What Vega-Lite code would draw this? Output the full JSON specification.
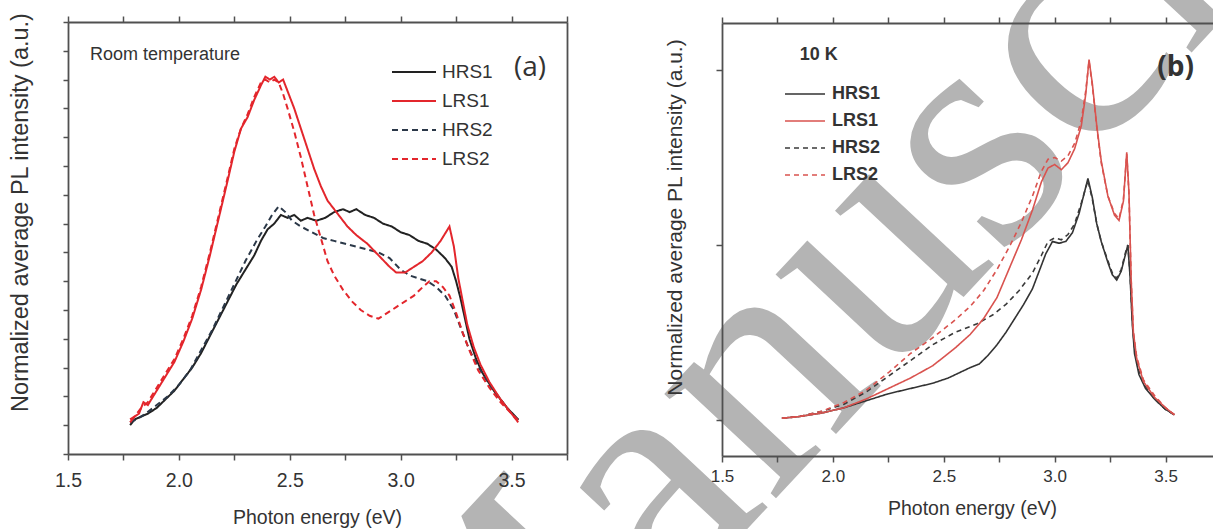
{
"$schema":"https://vega.github.io/schema/vega-lite/v6.json",
"width":1213,"height":529,"padding":0,"autosize":{"type":"none"},
"config":{"view":{"stroke":null},"axis":{"zindex":1,"grid":false,"domainColor":"#505050","tickColor":"#505050","domainWidth":1.8,"tickWidth":1.5,"labelColor":"#333","titleColor":"#333","titleFontWeight":"normal"}},
"datasets":{
"one":[{}],
"a":[
{"s":"HRS1","e":1.78,"v":0.10},{"s":"HRS1","e":1.80,"v":0.12},{"s":"HRS1","e":1.83,"v":0.13},{"s":"HRS1","e":1.86,"v":0.14},{"s":"HRS1","e":1.90,"v":0.16},{"s":"HRS1","e":1.94,"v":0.19},{"s":"HRS1","e":1.98,"v":0.22},{"s":"HRS1","e":2.02,"v":0.26},{"s":"HRS1","e":2.06,"v":0.30},{"s":"HRS1","e":2.10,"v":0.35},{"s":"HRS1","e":2.14,"v":0.41},{"s":"HRS1","e":2.18,"v":0.47},{"s":"HRS1","e":2.22,"v":0.53},{"s":"HRS1","e":2.26,"v":0.59},{"s":"HRS1","e":2.30,"v":0.64},{"s":"HRS1","e":2.34,"v":0.69},{"s":"HRS1","e":2.37,"v":0.74},{"s":"HRS1","e":2.40,"v":0.78},{"s":"HRS1","e":2.43,"v":0.80},{"s":"HRS1","e":2.46,"v":0.83},{"s":"HRS1","e":2.49,"v":0.82},{"s":"HRS1","e":2.52,"v":0.83},{"s":"HRS1","e":2.55,"v":0.81},{"s":"HRS1","e":2.58,"v":0.82},{"s":"HRS1","e":2.62,"v":0.81},{"s":"HRS1","e":2.66,"v":0.82},{"s":"HRS1","e":2.70,"v":0.84},{"s":"HRS1","e":2.74,"v":0.85},{"s":"HRS1","e":2.77,"v":0.84},{"s":"HRS1","e":2.80,"v":0.85},{"s":"HRS1","e":2.84,"v":0.83},{"s":"HRS1","e":2.88,"v":0.82},{"s":"HRS1","e":2.92,"v":0.80},{"s":"HRS1","e":2.96,"v":0.79},{"s":"HRS1","e":3.00,"v":0.77},{"s":"HRS1","e":3.04,"v":0.76},{"s":"HRS1","e":3.08,"v":0.74},{"s":"HRS1","e":3.12,"v":0.73},{"s":"HRS1","e":3.16,"v":0.71},{"s":"HRS1","e":3.20,"v":0.68},{"s":"HRS1","e":3.23,"v":0.65},{"s":"HRS1","e":3.25,"v":0.60},{"s":"HRS1","e":3.27,"v":0.54},{"s":"HRS1","e":3.29,"v":0.47},{"s":"HRS1","e":3.31,"v":0.40},{"s":"HRS1","e":3.34,"v":0.33},{"s":"HRS1","e":3.37,"v":0.28},{"s":"HRS1","e":3.42,"v":0.22},{"s":"HRS1","e":3.48,"v":0.16},{"s":"HRS1","e":3.53,"v":0.12},
{"s":"HRS2","e":1.78,"v":0.11},{"s":"HRS2","e":1.81,"v":0.12},{"s":"HRS2","e":1.85,"v":0.14},{"s":"HRS2","e":1.90,"v":0.17},{"s":"HRS2","e":1.95,"v":0.20},{"s":"HRS2","e":2.00,"v":0.24},{"s":"HRS2","e":2.05,"v":0.29},{"s":"HRS2","e":2.10,"v":0.36},{"s":"HRS2","e":2.15,"v":0.43},{"s":"HRS2","e":2.20,"v":0.51},{"s":"HRS2","e":2.25,"v":0.59},{"s":"HRS2","e":2.30,"v":0.67},{"s":"HRS2","e":2.35,"v":0.74},{"s":"HRS2","e":2.39,"v":0.79},{"s":"HRS2","e":2.42,"v":0.83},{"s":"HRS2","e":2.45,"v":0.86},{"s":"HRS2","e":2.48,"v":0.84},{"s":"HRS2","e":2.51,"v":0.81},{"s":"HRS2","e":2.55,"v":0.79},{"s":"HRS2","e":2.60,"v":0.77},{"s":"HRS2","e":2.65,"v":0.75},{"s":"HRS2","e":2.70,"v":0.74},{"s":"HRS2","e":2.75,"v":0.73},{"s":"HRS2","e":2.80,"v":0.72},{"s":"HRS2","e":2.85,"v":0.71},{"s":"HRS2","e":2.90,"v":0.70},{"s":"HRS2","e":2.95,"v":0.68},{"s":"HRS2","e":3.00,"v":0.64},{"s":"HRS2","e":3.04,"v":0.62},{"s":"HRS2","e":3.08,"v":0.61},{"s":"HRS2","e":3.12,"v":0.60},{"s":"HRS2","e":3.16,"v":0.58},{"s":"HRS2","e":3.20,"v":0.55},{"s":"HRS2","e":3.24,"v":0.50},{"s":"HRS2","e":3.27,"v":0.44},{"s":"HRS2","e":3.30,"v":0.38},{"s":"HRS2","e":3.33,"v":0.33},{"s":"HRS2","e":3.36,"v":0.29},{"s":"HRS2","e":3.40,"v":0.24},{"s":"HRS2","e":3.45,"v":0.19},{"s":"HRS2","e":3.50,"v":0.14},{"s":"HRS2","e":3.54,"v":0.11},
{"s":"LRS1","e":1.78,"v":0.11},{"s":"LRS1","e":1.80,"v":0.13},{"s":"LRS1","e":1.82,"v":0.14},{"s":"LRS1","e":1.84,"v":0.18},{"s":"LRS1","e":1.86,"v":0.17},{"s":"LRS1","e":1.90,"v":0.22},{"s":"LRS1","e":1.94,"v":0.27},{"s":"LRS1","e":1.98,"v":0.32},{"s":"LRS1","e":2.02,"v":0.39},{"s":"LRS1","e":2.06,"v":0.47},{"s":"LRS1","e":2.10,"v":0.57},{"s":"LRS1","e":2.14,"v":0.69},{"s":"LRS1","e":2.18,"v":0.82},{"s":"LRS1","e":2.22,"v":0.95},{"s":"LRS1","e":2.25,"v":1.05},{"s":"LRS1","e":2.28,"v":1.13},{"s":"LRS1","e":2.31,"v":1.17},{"s":"LRS1","e":2.34,"v":1.23},{"s":"LRS1","e":2.37,"v":1.28},{"s":"LRS1","e":2.39,"v":1.31},{"s":"LRS1","e":2.41,"v":1.30},{"s":"LRS1","e":2.43,"v":1.31},{"s":"LRS1","e":2.45,"v":1.29},{"s":"LRS1","e":2.47,"v":1.30},{"s":"LRS1","e":2.49,"v":1.26},{"s":"LRS1","e":2.52,"v":1.20},{"s":"LRS1","e":2.55,"v":1.13},{"s":"LRS1","e":2.58,"v":1.06},{"s":"LRS1","e":2.61,"v":0.99},{"s":"LRS1","e":2.64,"v":0.93},{"s":"LRS1","e":2.67,"v":0.88},{"s":"LRS1","e":2.70,"v":0.85},{"s":"LRS1","e":2.73,"v":0.82},{"s":"LRS1","e":2.76,"v":0.79},{"s":"LRS1","e":2.80,"v":0.76},{"s":"LRS1","e":2.85,"v":0.73},{"s":"LRS1","e":2.90,"v":0.69},{"s":"LRS1","e":2.95,"v":0.65},{"s":"LRS1","e":2.98,"v":0.63},{"s":"LRS1","e":3.02,"v":0.63},{"s":"LRS1","e":3.06,"v":0.65},{"s":"LRS1","e":3.10,"v":0.67},{"s":"LRS1","e":3.14,"v":0.70},{"s":"LRS1","e":3.18,"v":0.74},{"s":"LRS1","e":3.22,"v":0.79},{"s":"LRS1","e":3.24,"v":0.72},{"s":"LRS1","e":3.26,"v":0.61},{"s":"LRS1","e":3.28,"v":0.53},{"s":"LRS1","e":3.30,"v":0.45},{"s":"LRS1","e":3.33,"v":0.37},{"s":"LRS1","e":3.36,"v":0.31},{"s":"LRS1","e":3.40,"v":0.25},{"s":"LRS1","e":3.45,"v":0.19},{"s":"LRS1","e":3.50,"v":0.14},{"s":"LRS1","e":3.53,"v":0.11},
{"s":"LRS2","e":1.78,"v":0.12},{"s":"LRS2","e":1.80,"v":0.13},{"s":"LRS2","e":1.83,"v":0.16},{"s":"LRS2","e":1.86,"v":0.18},{"s":"LRS2","e":1.90,"v":0.23},{"s":"LRS2","e":1.94,"v":0.28},{"s":"LRS2","e":1.98,"v":0.33},{"s":"LRS2","e":2.02,"v":0.40},{"s":"LRS2","e":2.06,"v":0.48},{"s":"LRS2","e":2.10,"v":0.58},{"s":"LRS2","e":2.14,"v":0.70},{"s":"LRS2","e":2.18,"v":0.83},{"s":"LRS2","e":2.22,"v":0.96},{"s":"LRS2","e":2.25,"v":1.06},{"s":"LRS2","e":2.28,"v":1.13},{"s":"LRS2","e":2.31,"v":1.18},{"s":"LRS2","e":2.34,"v":1.24},{"s":"LRS2","e":2.37,"v":1.29},{"s":"LRS2","e":2.39,"v":1.30},{"s":"LRS2","e":2.41,"v":1.29},{"s":"LRS2","e":2.43,"v":1.30},{"s":"LRS2","e":2.45,"v":1.29},{"s":"LRS2","e":2.47,"v":1.25},{"s":"LRS2","e":2.49,"v":1.20},{"s":"LRS2","e":2.52,"v":1.12},{"s":"LRS2","e":2.55,"v":1.03},{"s":"LRS2","e":2.58,"v":0.93},{"s":"LRS2","e":2.61,"v":0.83},{"s":"LRS2","e":2.64,"v":0.75},{"s":"LRS2","e":2.67,"v":0.67},{"s":"LRS2","e":2.70,"v":0.62},{"s":"LRS2","e":2.74,"v":0.57},{"s":"LRS2","e":2.78,"v":0.53},{"s":"LRS2","e":2.82,"v":0.50},{"s":"LRS2","e":2.86,"v":0.48},{"s":"LRS2","e":2.90,"v":0.47},{"s":"LRS2","e":2.94,"v":0.49},{"s":"LRS2","e":2.98,"v":0.51},{"s":"LRS2","e":3.02,"v":0.53},{"s":"LRS2","e":3.06,"v":0.55},{"s":"LRS2","e":3.10,"v":0.58},{"s":"LRS2","e":3.13,"v":0.60},{"s":"LRS2","e":3.16,"v":0.60},{"s":"LRS2","e":3.19,"v":0.58},{"s":"LRS2","e":3.22,"v":0.55},{"s":"LRS2","e":3.25,"v":0.49},{"s":"LRS2","e":3.28,"v":0.42},{"s":"LRS2","e":3.31,"v":0.36},{"s":"LRS2","e":3.35,"v":0.29},{"s":"LRS2","e":3.40,"v":0.23},{"s":"LRS2","e":3.45,"v":0.18},{"s":"LRS2","e":3.50,"v":0.14},{"s":"LRS2","e":3.54,"v":0.11}
],
"b":[
{"s":"HRS1","e":1.77,"v":0.01},{"s":"HRS1","e":1.85,"v":0.02},{"s":"HRS1","e":1.95,"v":0.04},{"s":"HRS1","e":2.05,"v":0.07},{"s":"HRS1","e":2.15,"v":0.11},{"s":"HRS1","e":2.25,"v":0.15},{"s":"HRS1","e":2.35,"v":0.18},{"s":"HRS1","e":2.45,"v":0.21},{"s":"HRS1","e":2.52,"v":0.24},{"s":"HRS1","e":2.57,"v":0.27},{"s":"HRS1","e":2.62,"v":0.30},{"s":"HRS1","e":2.66,"v":0.32},{"s":"HRS1","e":2.70,"v":0.37},{"s":"HRS1","e":2.74,"v":0.43},{"s":"HRS1","e":2.78,"v":0.50},{"s":"HRS1","e":2.82,"v":0.58},{"s":"HRS1","e":2.86,"v":0.66},{"s":"HRS1","e":2.90,"v":0.75},{"s":"HRS1","e":2.93,"v":0.85},{"s":"HRS1","e":2.96,"v":0.95},{"s":"HRS1","e":2.99,"v":1.02},{"s":"HRS1","e":3.02,"v":1.01},{"s":"HRS1","e":3.05,"v":1.02},{"s":"HRS1","e":3.08,"v":1.07},{"s":"HRS1","e":3.11,"v":1.18},{"s":"HRS1","e":3.13,"v":1.28},{"s":"HRS1","e":3.15,"v":1.38},{"s":"HRS1","e":3.17,"v":1.27},{"s":"HRS1","e":3.19,"v":1.12},{"s":"HRS1","e":3.21,"v":1.02},{"s":"HRS1","e":3.24,"v":0.90},{"s":"HRS1","e":3.26,"v":0.83},{"s":"HRS1","e":3.28,"v":0.80},{"s":"HRS1","e":3.30,"v":0.85},{"s":"HRS1","e":3.32,"v":0.95},{"s":"HRS1","e":3.33,"v":1.00},{"s":"HRS1","e":3.34,"v":0.82},{"s":"HRS1","e":3.35,"v":0.55},{"s":"HRS1","e":3.36,"v":0.38},{"s":"HRS1","e":3.38,"v":0.26},{"s":"HRS1","e":3.41,"v":0.18},{"s":"HRS1","e":3.45,"v":0.12},{"s":"HRS1","e":3.50,"v":0.06},{"s":"HRS1","e":3.54,"v":0.03},
{"s":"HRS2","e":1.77,"v":0.01},{"s":"HRS2","e":1.85,"v":0.02},{"s":"HRS2","e":1.95,"v":0.05},{"s":"HRS2","e":2.05,"v":0.09},{"s":"HRS2","e":2.15,"v":0.16},{"s":"HRS2","e":2.25,"v":0.25},{"s":"HRS2","e":2.35,"v":0.34},{"s":"HRS2","e":2.45,"v":0.43},{"s":"HRS2","e":2.55,"v":0.50},{"s":"HRS2","e":2.65,"v":0.55},{"s":"HRS2","e":2.72,"v":0.60},{"s":"HRS2","e":2.78,"v":0.66},{"s":"HRS2","e":2.84,"v":0.74},{"s":"HRS2","e":2.90,"v":0.84},{"s":"HRS2","e":2.94,"v":0.94},{"s":"HRS2","e":2.97,"v":1.02},{"s":"HRS2","e":3.00,"v":1.04},{"s":"HRS2","e":3.03,"v":1.03},{"s":"HRS2","e":3.06,"v":1.06},{"s":"HRS2","e":3.09,"v":1.12},{"s":"HRS2","e":3.12,"v":1.24},{"s":"HRS2","e":3.15,"v":1.37},{"s":"HRS2","e":3.17,"v":1.26},{"s":"HRS2","e":3.19,"v":1.12},{"s":"HRS2","e":3.21,"v":1.02},{"s":"HRS2","e":3.24,"v":0.91},{"s":"HRS2","e":3.26,"v":0.84},{"s":"HRS2","e":3.28,"v":0.81},{"s":"HRS2","e":3.30,"v":0.86},{"s":"HRS2","e":3.32,"v":0.96},{"s":"HRS2","e":3.33,"v":1.00},{"s":"HRS2","e":3.34,"v":0.83},{"s":"HRS2","e":3.35,"v":0.57},{"s":"HRS2","e":3.36,"v":0.40},{"s":"HRS2","e":3.38,"v":0.28},{"s":"HRS2","e":3.41,"v":0.19},{"s":"HRS2","e":3.45,"v":0.12},{"s":"HRS2","e":3.50,"v":0.06},{"s":"HRS2","e":3.54,"v":0.03},
{"s":"LRS1","e":1.77,"v":0.01},{"s":"LRS1","e":1.85,"v":0.02},{"s":"LRS1","e":1.95,"v":0.04},{"s":"LRS1","e":2.05,"v":0.07},{"s":"LRS1","e":2.15,"v":0.12},{"s":"LRS1","e":2.25,"v":0.18},{"s":"LRS1","e":2.35,"v":0.24},{"s":"LRS1","e":2.45,"v":0.31},{"s":"LRS1","e":2.55,"v":0.41},{"s":"LRS1","e":2.62,"v":0.49},{"s":"LRS1","e":2.68,"v":0.58},{"s":"LRS1","e":2.74,"v":0.70},{"s":"LRS1","e":2.77,"v":0.79},{"s":"LRS1","e":2.80,"v":0.88},{"s":"LRS1","e":2.85,"v":1.03},{"s":"LRS1","e":2.90,"v":1.20},{"s":"LRS1","e":2.94,"v":1.36},{"s":"LRS1","e":2.97,"v":1.44},{"s":"LRS1","e":3.00,"v":1.46},{"s":"LRS1","e":3.03,"v":1.43},{"s":"LRS1","e":3.06,"v":1.47},{"s":"LRS1","e":3.09,"v":1.55},{"s":"LRS1","e":3.12,"v":1.68},{"s":"LRS1","e":3.14,"v":1.86},{"s":"LRS1","e":3.155,"v":2.06},{"s":"LRS1","e":3.17,"v":1.92},{"s":"LRS1","e":3.19,"v":1.68},{"s":"LRS1","e":3.21,"v":1.48},{"s":"LRS1","e":3.24,"v":1.28},{"s":"LRS1","e":3.27,"v":1.17},{"s":"LRS1","e":3.29,"v":1.14},{"s":"LRS1","e":3.31,"v":1.25},{"s":"LRS1","e":3.325,"v":1.53},{"s":"LRS1","e":3.335,"v":1.30},{"s":"LRS1","e":3.345,"v":0.80},{"s":"LRS1","e":3.355,"v":0.50},{"s":"LRS1","e":3.37,"v":0.35},{"s":"LRS1","e":3.40,"v":0.22},{"s":"LRS1","e":3.45,"v":0.13},{"s":"LRS1","e":3.50,"v":0.07},{"s":"LRS1","e":3.54,"v":0.03},
{"s":"LRS2","e":1.77,"v":0.01},{"s":"LRS2","e":1.85,"v":0.02},{"s":"LRS2","e":1.95,"v":0.05},{"s":"LRS2","e":2.05,"v":0.10},{"s":"LRS2","e":2.15,"v":0.17},{"s":"LRS2","e":2.25,"v":0.27},{"s":"LRS2","e":2.35,"v":0.38},{"s":"LRS2","e":2.45,"v":0.47},{"s":"LRS2","e":2.55,"v":0.57},{"s":"LRS2","e":2.62,"v":0.65},{"s":"LRS2","e":2.68,"v":0.74},{"s":"LRS2","e":2.74,"v":0.86},{"s":"LRS2","e":2.80,"v":1.00},{"s":"LRS2","e":2.85,"v":1.13},{"s":"LRS2","e":2.90,"v":1.28},{"s":"LRS2","e":2.94,"v":1.42},{"s":"LRS2","e":2.97,"v":1.49},{"s":"LRS2","e":3.00,"v":1.50},{"s":"LRS2","e":3.03,"v":1.48},{"s":"LRS2","e":3.06,"v":1.51},{"s":"LRS2","e":3.09,"v":1.58},{"s":"LRS2","e":3.12,"v":1.71},{"s":"LRS2","e":3.14,"v":1.88},{"s":"LRS2","e":3.155,"v":2.05},{"s":"LRS2","e":3.17,"v":1.91},{"s":"LRS2","e":3.19,"v":1.67},{"s":"LRS2","e":3.21,"v":1.47},{"s":"LRS2","e":3.24,"v":1.28},{"s":"LRS2","e":3.27,"v":1.18},{"s":"LRS2","e":3.29,"v":1.15},{"s":"LRS2","e":3.31,"v":1.26},{"s":"LRS2","e":3.325,"v":1.52},{"s":"LRS2","e":3.335,"v":1.29},{"s":"LRS2","e":3.345,"v":0.80},{"s":"LRS2","e":3.355,"v":0.50},{"s":"LRS2","e":3.37,"v":0.36},{"s":"LRS2","e":3.40,"v":0.23},{"s":"LRS2","e":3.45,"v":0.14},{"s":"LRS2","e":3.50,"v":0.07},{"s":"LRS2","e":3.54,"v":0.03}
]
},
"resolve":{"scale":{"x":"independent","y":"independent","color":"independent","strokeDash":"independent"},"axis":{"x":"independent","y":"independent"}},
"layer":[
{
"data":{"name":"one"},
"mark":{"type":"text","text":"Manuscript","font":"Liberation Serif","fontSize":333,"angle":-47,"align":"left","baseline":"alphabetic","fill":"#b4b4b4"},
"encoding":{
"x":{"datum":0.355,"type":"quantitative","scale":{"domain":[1.5,3.75],"range":[722,1221],"nice":false,"zero":false},"axis":null},
"y":{"datum":-2.334,"type":"quantitative","scale":{"domain":[-0.2057,2.2686],"range":[456,23],"nice":false,"zero":false},"axis":null}
}
},
{
"data":{"name":"a"},
"mark":{"type":"line","strokeWidth":2},
"encoding":{
"x":{"field":"e","type":"quantitative","scale":{"domain":[1.5,3.75],"range":[68,567],"nice":false,"zero":false},
"axis":{"orient":"bottom","offset":-75,"values":[1.5,1.75,2,2.25,2.5,2.75,3,3.25,3.5,3.75],"labelExpr":"abs(datum.value*2-round(datum.value*2))<0.01 ? format(datum.value,'.1f') : ''","labelFont":"Liberation Sans","labelFontSize":19.5,"labelPadding":11,"labelOverlap":false,"labelFlush":false,"tickSize":6,"title":"Photon energy (eV)","titleFont":"Liberation Sans","titleFontSize":19.5,"titleX":317,"titleY":63,"titleBaseline":"middle","titleAlign":"center","zindex":1}},
"y":{"field":"v","type":"quantitative","scale":{"domain":[0,1.5],"range":[454,22],"nice":false,"zero":false},
"axis":{"orient":"left","offset":-68,"values":[0,0.1,0.2,0.3,0.4,0.5,0.6,0.7,0.8,0.9,1,1.1,1.2,1.3,1.4,1.5],"labels":false,"tickSize":5,"title":"Normalized average PL intensity (a.u.)","titleFont":"Liberation Sans","titleFontSize":23.5,"titleX":-48,"titleY":212,"titleAngle":-90,"titleBaseline":"middle","titleAlign":"center","zindex":1}},
"color":{"field":"s","type":"nominal","scale":{"domain":["HRS1","LRS1","HRS2","LRS2"],"range":["#222222","#e3262c","#2b3848","#e3262c"]},
"legend":{"orient":"none","legendX":404.5,"legendY":62.5,"title":null,"symbolType":"M-4,0H4","symbolSize":121,"symbolStrokeWidth":2,"labelFont":"Liberation Sans","labelFontSize":19,"labelColor":"#333","labelOffset":18.5,"rowPadding":9,"padding":0,"zindex":1}},
"strokeDash":{"field":"s","type":"nominal","scale":{"domain":["HRS1","LRS1","HRS2","LRS2"],"range":[[1,0],[1,0],[6,4],[6,4]]},
"legend":{"orient":"none","legendX":404.5,"legendY":62.5,"title":null,"symbolType":"M-4,0H4","symbolSize":121,"symbolStrokeWidth":2,"labelFont":"Liberation Sans","labelFontSize":19,"labelColor":"#333","labelOffset":18.5,"rowPadding":9,"padding":0,"zindex":1}}
}
},
{
"data":{"name":"one"},
"mark":{"type":"text","text":"(a)","font":"Open Sans","fontSize":28,"align":"center","baseline":"middle","fill":"#333"},
"encoding":{
"x":{"datum":3.583,"type":"quantitative","scale":{"domain":[1.5,3.75],"range":[68,567],"nice":false,"zero":false},
"axis":{"orient":"top","offset":-22,"values":[1.5,1.75,2,2.25,2.5,2.75,3,3.25,3.5,3.75],"labels":false,"tickSize":6,"title":null,"zindex":1}},
"y":{"datum":1.34,"type":"quantitative","scale":{"domain":[0,1.5],"range":[454,22],"nice":false,"zero":false},
"axis":{"orient":"right","offset":-646,"ticks":false,"labels":false,"title":null,"zindex":1}}
}
},
{
"data":{"name":"one"},
"mark":{"type":"text","text":"Room temperature","font":"Liberation Sans","fontSize":18,"align":"left","baseline":"middle","fill":"#333"},
"encoding":{
"x":{"datum":1.599,"type":"quantitative","scale":{"domain":[1.5,3.75],"range":[68,567],"nice":false,"zero":false},"axis":null},
"y":{"datum":1.385,"type":"quantitative","scale":{"domain":[0,1.5],"range":[454,22],"nice":false,"zero":false},"axis":null}
}
},
{
"data":{"name":"b"},
"mark":{"type":"line","strokeWidth":1.6},
"encoding":{
"x":{"field":"e","type":"quantitative","scale":{"domain":[1.5,3.75],"range":[722,1221],"nice":false,"zero":false},
"axis":{"orient":"bottom","offset":-73,"values":[1.5,1.75,2,2.25,2.5,2.75,3,3.25,3.5,3.75],"labelExpr":"abs(datum.value*2-round(datum.value*2))<0.01 ? format(datum.value,'.1f') : ''","labelFont":"Liberation Sans","labelFontSize":17,"labelPadding":6,"labelOverlap":false,"labelFlush":false,"tickSize":6,"title":"Photon energy (eV)","titleFont":"Liberation Sans","titleFontSize":19.5,"titleX":972,"titleY":52,"titleBaseline":"middle","titleAlign":"center","zindex":1}},
"y":{"field":"v","type":"quantitative","scale":{"domain":[-0.2057,2.2686],"range":[456,23],"nice":false,"zero":false},
"axis":{"orient":"left","offset":-722,"values":[0,1,2],"labels":false,"tickSize":6,"title":"Normalized average PL intensity (a.u.)","titleFont":"Liberation Sans","titleFontSize":21,"titleX":-47,"titleY":217,"titleAngle":-90,"titleBaseline":"middle","titleAlign":"center","zindex":1}},
"color":{"field":"s","type":"nominal","scale":{"domain":["HRS1","LRS1","HRS2","LRS2"],"range":["#333333","#d9534f","#3a3a3a","#d9534f"]},
"legend":{"orient":"none","legendX":796,"legendY":85,"title":null,"symbolType":"M-4,0H4","symbolSize":100,"symbolStrokeWidth":1.6,"labelFont":"Liberation Sans","labelFontSize":18,"labelFontWeight":"bold","labelColor":"#333","labelOffset":18,"rowPadding":9,"padding":0,"zindex":1}},
"strokeDash":{"field":"s","type":"nominal","scale":{"domain":["HRS1","LRS1","HRS2","LRS2"],"range":[[1,0],[1,0],[5,4],[5,4]]},
"legend":{"orient":"none","legendX":796,"legendY":85,"title":null,"symbolType":"M-4,0H4","symbolSize":100,"symbolStrokeWidth":1.6,"labelFont":"Liberation Sans","labelFontSize":18,"labelFontWeight":"bold","labelColor":"#333","labelOffset":18,"rowPadding":9,"padding":0,"zindex":1}}
}
},
{
"data":{"name":"one"},
"mark":{"type":"text","text":"(b)","font":"Open Sans","fontSize":28,"fontWeight":"bold","align":"center","baseline":"middle","fill":"#333"},
"encoding":{
"x":{"datum":3.545,"type":"quantitative","scale":{"domain":[1.5,3.75],"range":[722,1221],"nice":false,"zero":false},
"axis":{"orient":"top","offset":-23,"values":[1.5,1.75,2,2.25,2.5,2.75,3,3.25,3.5,3.75],"labels":false,"tickSize":6,"title":null,"zindex":1}},
"y":{"datum":2.011,"type":"quantitative","scale":{"domain":[-0.2057,2.2686],"range":[456,23],"nice":false,"zero":false},"axis":null}
}
},
{
"data":{"name":"one"},
"mark":{"type":"text","text":"10 K","font":"Liberation Sans","fontSize":18,"fontWeight":"bold","align":"left","baseline":"middle","fill":"#333"},
"encoding":{
"x":{"datum":1.851,"type":"quantitative","scale":{"domain":[1.5,3.75],"range":[722,1221],"nice":false,"zero":false},"axis":null},
"y":{"datum":2.086,"type":"quantitative","scale":{"domain":[-0.2057,2.2686],"range":[456,23],"nice":false,"zero":false},"axis":null}
}
}
]
}
